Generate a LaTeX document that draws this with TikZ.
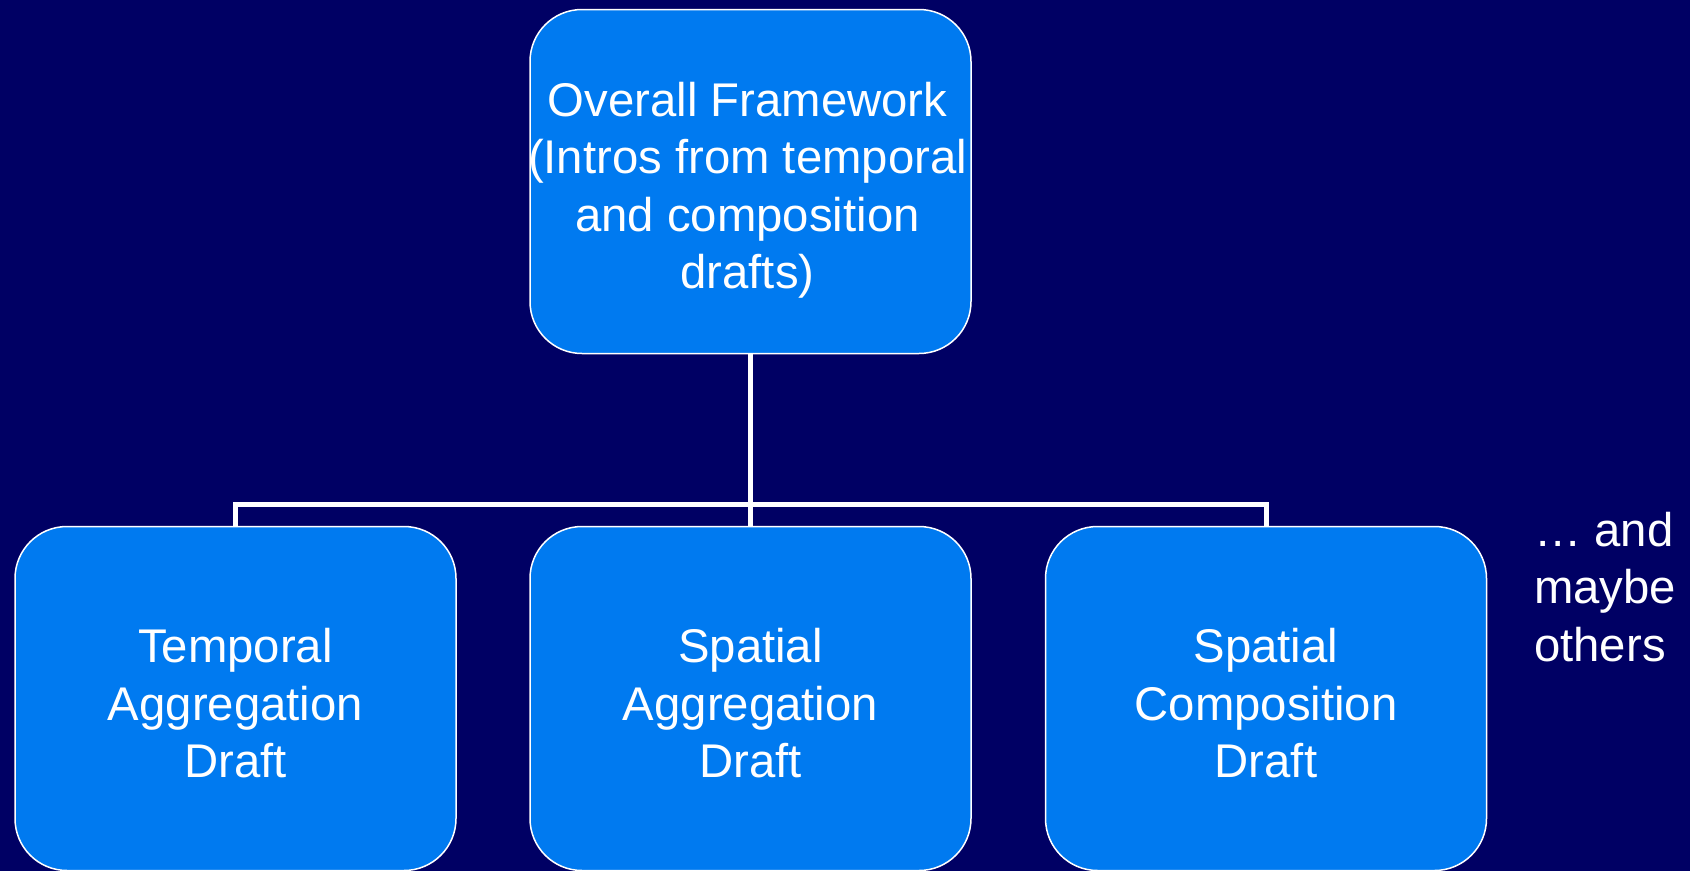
\documentclass[tikz,border=0pt]{standalone}
\usepackage{fontspec}
\setmainfont{Liberation Sans}
\definecolor{bgnavy}{RGB}{0,0,100}
\definecolor{boxblue}{RGB}{0,122,240}
\begin{document}
\begin{tikzpicture}[x=1pt,y=-1pt,
  draftbox/.style={draw=white, line width=1.5pt, fill=boxblue, rounded corners=52pt,
    minimum width=441pt, minimum height=344pt, inner sep=0pt},
  drafttext/.style={align=center, inner sep=0pt, text=white,
    font=\fontsize{47.3}{57.5}\selectfont},
  conn/.style={draw=white, line width=5pt, line join=miter}]
\fill[bgnavy] (0,0) rectangle (1690,871);
\useasboundingbox (0,0) rectangle (1690,871);
\node[draftbox] (top) at (750.5,181.5) {};
\node[draftbox] (left) at (235.5,698.5) {};
\node[draftbox] (mid) at (750.5,698.5) {};
\node[draftbox] (right) at (1266,698.5) {};
\node[drafttext] (topt) at ([xshift=-3pt,yshift=-9pt]top.center) {Overall Framework\\(Intros from temporal\\and composition\\drafts)};
\node[drafttext] (leftt) at ([yshift=-5pt]left.center) {Temporal\\Aggregation\\Draft};
\node[drafttext] (midt) at ([yshift=-5pt]mid.center) {Spatial\\Aggregation\\Draft};
\node[drafttext] (rightt) at ([yshift=-5pt]right.center) {Spatial\\Composition\\Draft};
\coordinate (j) at (750.5,504);
\draw[conn] (top.south) -- (mid.north);
\draw[conn] (left.north) |- (j) -| (right.north);
\node[anchor=north west, align=left, inner sep=0pt, text=white,
  font=\fontsize{47.3}{57.5}\selectfont] (more) at (1534,512) {… and\\maybe\\others};
\end{tikzpicture}
\end{document}
